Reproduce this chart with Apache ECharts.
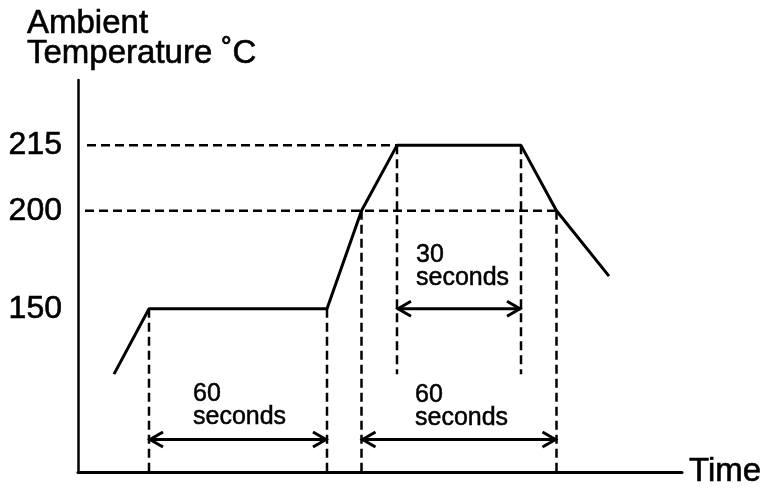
<!DOCTYPE html>
<html>
<head>
<meta charset="utf-8">
<script src="https://cdn.jsdelivr.net/npm/echarts@6/dist/echarts.min.js"></script>
<style>
  html, body { margin: 0; padding: 0; background: #fff; }
  #chart { width: 765px; height: 489px; }
</style>
</head>
<body>
<div id="chart"></div>
<script>
// schematic axes: x in drawing units of time, y in drawing levels (not to scale)
const tickLevels = [5, 8, 10];
const tickLabels = ['150', '200', '215'];

// reflow profile (time, level)
const profileTime = [7.2, 14.2, 49.8, 56.7, 63.8, 88.6, 95.7, 106.2];
const profileLevel = [3, 5, 5, 8, 10, 10, 8, 6];

// dashed guides [x1, y1, x2, y2]
const guides = [
  [1.8, 10, 63.8, 10],
  [1.4, 8, 95.7, 8],
  [14.2, 5, 14.2, 0],
  [49.8, 5, 49.8, 0],
  [56.7, 8, 56.7, 0],
  [63.8, 10, 63.8, 3],
  [88.6, 10, 88.6, 3],
  [95.7, 8, 95.7, 0]
];

// double arrows [from, to, level]
const arrows = [
  [14.2, 49.8, 1.0],
  [56.7, 95.7, 1.0],
  [63.8, 88.6, 5]
];

// duration labels [x, y, text]
const notes = [
  [23, 2.05, '60\nseconds'],
  [67.4, 2.0, '60\nseconds'],
  [67.6, 6.3, '30\nseconds']
];

const FONT = '"Liberation Sans", Arial, sans-serif';
const chart = echarts.init(document.getElementById('chart'));

const labelMap = {};
tickLevels.forEach((l, i) => { labelMap[l] = tickLabels[i]; });

// slight outline to match the heavier glyphs of the original
const heavy = { textBorderColor: '#000', textBorderWidth: 0.6 };

chart.setOption({
  animation: false,
  title: {
    text: 'Ambient\nTemperature ˚C',
    left: 27,
    top: 9,
    padding: 0,
    textStyle: Object.assign({ fontFamily: FONT, fontSize: 33, fontWeight: 'normal', color: '#000', lineHeight: 30 }, heavy)
  },
  grid: { left: 78, top: 80, width: 604, height: 396, containLabel: false },
  xAxis: {
    type: 'value',
    min: 0,
    max: 120.8,
    name: 'Time',
    nameLocation: 'end',
    nameGap: 7,
    nameTextStyle: Object.assign({ fontFamily: FONT, fontSize: 33, color: '#000', verticalAlign: 'middle' }, heavy),
    axisLine: { lineStyle: { color: '#000', width: 3 } },
    axisTick: { show: false },
    axisLabel: { show: false },
    splitLine: { show: false }
  },
  yAxis: {
    type: 'value',
    min: 0,
    max: 12,
    interval: 1,
    axisLine: { show: true, lineStyle: { color: '#000', width: 2.5 } },
    axisTick: { show: false },
    splitLine: { show: false },
    axisLabel: Object.assign({
      margin: 16,
      fontFamily: FONT,
      fontSize: 32,
      color: '#000',
      formatter: v => labelMap[v] || ''
    }, heavy)
  },
  series: [
    {
      type: 'custom',
      clip: false,
      z: 1,
      data: guides,
      renderItem: (params, api) => {
        const a = api.coord([api.value(0), api.value(1)]);
        const b = api.coord([api.value(2), api.value(3)]);
        return {
          type: 'line',
          shape: { x1: a[0], y1: a[1], x2: b[0], y2: b[1] },
          style: { stroke: '#000', lineWidth: 2.5, lineDash: [9, 5] }
        };
      }
    },
    {
      type: 'line',
      z: 3,
      data: profileTime.map((t, i) => [t, profileLevel[i]]),
      showSymbol: false,
      symbol: 'none',
      lineStyle: { color: '#000', width: 3 }
    },
    {
      type: 'custom',
      clip: false,
      z: 2,
      data: arrows,
      renderItem: (params, api) => {
        const a = api.coord([api.value(0), api.value(2)]);
        const b = api.coord([api.value(1), api.value(2)]);
        const h = 14, w = 7.5;
        const st = { stroke: '#000', lineWidth: 3, fill: null };
        return {
          type: 'group',
          children: [
            { type: 'line', shape: { x1: a[0], y1: a[1], x2: b[0], y2: b[1] }, style: st },
            { type: 'polyline', shape: { points: [[a[0] + h, a[1] - w], [a[0] + 1, a[1]], [a[0] + h, a[1] + w]] }, style: st },
            { type: 'polyline', shape: { points: [[b[0] - h, b[1] - w], [b[0] - 1, b[1]], [b[0] - h, b[1] + w]] }, style: st }
          ]
        };
      }
    },
    {
      type: 'custom',
      clip: false,
      z: 4,
      data: notes,
      renderItem: (params, api) => {
        const p = api.coord([api.value(0), api.value(1)]);
        return {
          type: 'text',
          style: Object.assign({
            text: notes[params.dataIndex][2],
            x: p[0],
            y: p[1],
            fill: '#000',
            fontFamily: FONT,
            fontSize: 25,
            lineHeight: 23,
            align: 'left',
            verticalAlign: 'middle'
          }, { stroke: '#000', lineWidth: 0.5 })
        };
      }
    }
  ]
});
</script>
</body>
</html>
